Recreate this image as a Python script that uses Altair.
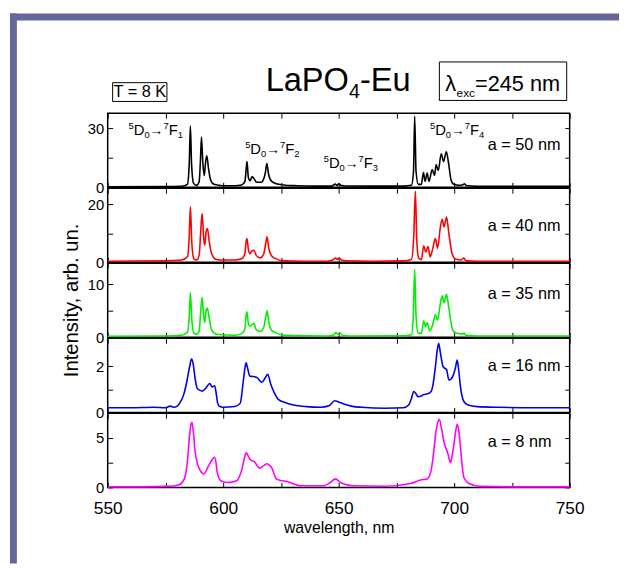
import altair as alt
import pandas as pd

FONT = "Liberation Sans"
FRAME = "#666699"

X_DOMAIN = [550, 750]
X_TICKS = [550, 575, 600, 625, 650, 675, 700, 725, 750]
X_LABELS = [550, 600, 650, 700, 750]

# ---------------- spectra (wavelength nm, intensity) ----------------
wl_50 = [550, 575, 582, 584.5, 585.3, 585.8, 586.3, 587.2, 588.5, 589.6, 590.2, 590.6, 591.2, 591.8,
         592.4, 592.9, 593.6, 594.5, 596, 600, 605, 608, 609.4, 610.0, 610.3, 610.9, 611.7, 612.5,
         613.3, 614.5, 616.5, 618.2, 618.9, 619.6, 621, 623, 626, 632, 640, 647, 648.5, 649.3, 650.0,
         651, 653, 665, 678, 681.5, 682.4, 682.9, 683.5, 684.5, 685.8, 686.7, 687.4, 688.3, 689.1,
         690.5, 691.5, 692.2, 693.1, 694.4, 695.4, 696.6, 697.6, 698.6, 699.8, 702, 703.8, 704.4,
         705.2, 710, 730, 750]
int_50 = [0.3, 0.4, 0.5, 1.5, 12, 31, 12, 2, 1.0, 3, 15, 25.5, 12, 6,
          13, 16, 10, 4, 1.5, 0.8, 0.8, 1.2, 3, 10, 13, 5, 3.4, 5.5,
          4.5, 2.6, 2.6, 7, 12, 7, 3, 1.8, 1.2, 0.8, 0.6, 0.6, 1.6, 0.9, 1.8,
          1.0, 0.7, 0.6, 0.6, 1, 8, 36, 8, 1.5, 1.5, 7.5, 3, 7.2, 3,
          9, 6, 11.5, 8.5, 17, 13, 18, 12, 4, 1.5, 1.0, 1.3, 1.8,
          0.9, 0.5, 0.5, 0.5]

wl_40 = [550, 575, 582, 584.6, 585.3, 585.8, 586.4, 587.3, 588.5, 589.6, 590.3, 590.9, 591.5, 592.0,
         592.6, 593.2, 594, 595, 597, 600, 605, 608, 609.4, 609.9, 610.3, 610.9, 611.6, 612.5, 613.3,
         614.3, 616, 617.5, 618.4, 619.0, 619.7, 621, 623, 625, 635, 645, 647.5, 648.6, 649.4, 650.2,
         651.2, 653, 665, 678, 681.5, 682.5, 683.2, 683.8, 684.6, 685.8, 686.8, 687.7, 688.7, 689.6,
         690.5, 691.9, 692.8, 694.0, 694.8, 695.6, 696.7, 697.7, 699.1, 700.5, 703, 704.2, 705, 710, 750]
int_40 = [0.4, 0.5, 0.8, 2, 9, 19.2, 7, 1.2, 0.8, 2.5, 11, 16.9, 9, 5.9,
          10.5, 11.7, 7, 3, 1.0, 0.8, 0.8, 1.2, 3, 7, 8.2, 4.5, 3.0, 4, 4.2,
          2.4, 1.5, 2.8, 6.5, 8.8, 5, 2.2, 1.2, 0.6, 0.4, 0.4, 0.8, 1.5, 1.0, 1.6,
          0.8, 0.5, 0.4, 0.5, 1, 9, 24.6, 8, 1.5, 0.9, 5.7, 3.6, 5.5, 1.9,
          4, 8.2, 4.9, 12, 14.9, 12.3, 15.7, 10, 3.0, 1.2, 0.8, 1.5, 0.6, 0.4, 0.4]

wl_35 = [550, 575, 582, 584.6, 585.3, 585.8, 586.4, 587.3, 588.5, 589.6, 590.3, 590.9, 591.5, 592.0,
         592.6, 593.1, 594, 595, 597, 605, 608, 609.4, 609.9, 610.3, 610.9, 611.6, 612.5, 613.3, 614.3,
         616, 617.5, 618.4, 619.0, 619.7, 621, 623, 626, 645, 648, 648.8, 649.6, 650.4, 651.5, 655,
         678, 681.5, 682.3, 682.9, 683.5, 684.4, 685.8, 686.8, 687.6, 688.3, 689.4, 690.6, 691.9,
         692.8, 694.0, 694.8, 695.6, 696.7, 697.7, 699.4, 701, 703.5, 704.2, 705, 710, 750]
int_35 = [0.2, 0.25, 0.4, 1, 4, 8.4, 3.5, 0.8, 0.6, 1.2, 5, 7.5, 4.2, 2.8,
          5, 5.5, 3.5, 1.4, 0.6, 0.4, 0.7, 1.6, 4, 4.8, 2.6, 2.1, 2.4, 2.6, 1.4,
          1.1, 1.8, 3.8, 5.0, 3.0, 1.3, 0.8, 0.4, 0.25, 0.5, 0.9, 0.6, 0.9, 0.4, 0.25,
          0.3, 0.5, 4, 12.8, 4, 0.8, 0.7, 3.1, 2.0, 2.8, 1.2, 2.2, 4.3,
          3.2, 6.3, 7.8, 6.5, 8.1, 5.5, 1.3, 0.8, 0.6, 0.8, 0.4, 0.25, 0.25]

wl_16 = [550, 560, 570, 575, 577, 579, 581.5, 583, 584.4, 585.5, 586.3, 587.0, 587.8, 588.7, 590,
         590.9, 592.5, 594.2, 595.2, 596.3, 597.0, 597.6, 598.5, 600, 605, 607.4, 608.6, 609.4,
         609.9, 610.6, 611.5, 613, 614.7, 616.0, 616.8, 618.2, 619.3, 620.5, 621.9, 624, 627, 630.6,
         636, 642, 646, 648.2, 650, 652.2, 656, 660, 670, 678, 680.3, 681.5, 682.5, 683.5, 684.3,
         686.0, 686.8, 688.5, 690, 691, 691.9, 692.7, 693.3, 694.0, 695.1, 696.0, 696.7, 697.7,
         698.7, 699.6, 700.6, 701.3, 702.0, 702.7, 704.2, 706, 710, 720, 735, 750]
int_16 = [0.2, 0.2, 0.22, 0.2, 0.27, 0.22, 0.45, 0.8, 1.4, 2.0, 2.3, 2.1, 1.5, 1.05, 0.95,
          0.92, 1.05, 1.25, 1.1, 1.15, 0.8, 0.4, 0.25, 0.22, 0.25, 0.4, 1.27, 1.9,
          2.14, 1.9, 1.56, 1.55, 1.5, 1.35, 1.3, 1.5, 1.65, 1.25, 0.9, 0.55, 0.42, 0.32,
          0.25, 0.22, 0.3, 0.5, 0.45, 0.36, 0.26, 0.22, 0.18, 0.2, 0.32, 0.6, 0.9, 0.8, 0.68,
          0.72, 0.77, 0.8, 0.9, 1.3, 2.0, 2.7, 2.98, 2.6, 2.0, 1.9, 1.85, 1.4,
          1.45, 1.6, 1.95, 2.26, 1.8, 1.12, 0.47, 0.32, 0.25, 0.22, 0.2, 0.2]

wl_8 = [550, 565, 575.7, 580.7, 582.5, 583.6, 584.5, 585.3, 586.0, 586.5, 587.1, 587.9, 589, 590.1,
        591.6, 593.7, 595.2, 596.2, 596.9, 597.3, 598.1, 598.8, 601.7, 604, 606, 607.2, 608.2, 609.2,
        610, 610.8, 611.8, 613.5, 615.8, 617.5, 619, 620, 621.2, 623, 625, 627.6, 630, 633.4, 643.5,
        646.4, 648.6, 650.8, 653, 656.5, 670, 681.1, 685.4, 688.3, 690, 691.1, 691.9, 692.8, 693.6,
        694.5, 695.5, 697.3, 698.4, 699.1, 699.8, 700.6, 701.3, 701.9, 702.4, 703.3, 704.2, 706.4,
        711.4, 730, 750]
int_8 = [0.05, 0.05, 0.1, 0.25, 0.6, 1.2, 2.6, 4.9, 6.3, 6.6, 5.6, 3.56, 2.3, 1.7,
         1.36, 2.2, 2.8, 3.05, 2.5, 1.7, 1.0, 0.7, 0.5, 0.55, 0.7, 1.2, 1.9, 3.0,
         3.5, 3.2, 2.8, 2.6, 1.95, 2.2, 2.4, 2.25, 1.9, 0.86, 0.7, 0.6, 0.4, 0.17, 0.17,
         0.5, 0.86, 0.5, 0.3, 0.17, 0.12, 0.4, 0.75, 0.86, 1.7, 3.5, 5.25, 6.5, 6.9,
         6.0, 4.7, 3.4, 2.5, 3.2, 4.2, 5.6, 6.4, 5.9, 4.9, 2.6, 1.0, 0.4,
         0.1, 0.05, 0.05]

series_wl = [wl_50, wl_40, wl_35, wl_16, wl_8]
series_int = [int_50, int_40, int_35, int_16, int_8]
series_color = ["#000000", "#ff0000", "#00ee00", "#0000ee", "#ff00ff"]
series_name = ["a = 50 nm", "a = 40 nm", "a = 35 nm", "a = 16 nm", "a = 8 nm"]
y_max = [37.5, 25.6, 13.9, 3.2, 7.5]
y_ticks = [[0, 15, 30], [0, 10, 20], [0, 5, 10], [0, 1, 2], [0, 2.5, 5]]
y_labels = [[0, 30], [0, 20], [0, 10], [0, 2], [0, 5]]

transitions = ["1", "2", "3", "4"]
transition_wl = [559, 609.5, 643.5, 689.5]
transition_val = [26.5, 17, 10, 26.5]

W, H = 468, 75

CW = {'0': .556, '1': .556, '2': .556, '3': .556, '4': .556, '5': .556, '6': .556, '7': .556,
      '8': .556, '9': .556, 'D': .722, 'F': .611, '→': 1.0, 'L': .556, 'a': .556, 'P': .667,
      'O': .778, '-': .333, 'E': .667, 'u': .556, 'λ': .52, 'e': .556, 'x': .5, 'c': .5,
      '=': .584, ' ': .278, 'n': .556, 'm': .833, 'T': .611, 'K': .667}


def tw(s, size):
    return sum(CW.get(c, .556) for c in s) * size


ONE = alt.Data(values=[{}])


def txt(s, x, y, size, font=FONT, align="left", baseline="alphabetic", angle=0):
    kw = dict(text=s, font=font, fontSize=size, align=align, baseline=baseline, color="black")
    if angle:
        kw["angle"] = angle
    return alt.Chart(ONE).mark_text(**kw).encode(x=alt.value(x), y=alt.value(y))


def seq(parts, x0, y0):
    out = []
    x = x0
    for s, size, dy in parts:
        out.append(txt(s, x, y0 + dy, size))
        x += tw(s, size)
    return out


def box(x1, x2, y1, y2):
    return alt.Chart(ONE).mark_rect(filled=False, stroke="black", strokeWidth=1).encode(
        x=alt.value(x1), x2=alt.value(x2), y=alt.value(y1), y2=alt.value(y2))


def bar(x1, x2, y1, y2):
    return alt.Chart(ONE).mark_rect(color=FRAME).encode(
        x=alt.value(x1), x2=alt.value(x2), y=alt.value(y1), y2=alt.value(y2))


INWARD = alt.ExprRef(expr="-5")


def panel(i):
    df = pd.DataFrame({"wl": series_wl[i], "I": series_int[i]})
    xs = alt.Scale(domain=X_DOMAIN, nice=False, zero=False)
    ys = alt.Scale(domain=[0, y_max[i]], nice=False, zero=False)
    last = i == 4
    lab_vals = str(y_labels[i])
    if last:
        x_bottom = alt.Axis(orient="bottom", values=X_TICKS, tickSize=INWARD, labelFlush=False,
                            labelExpr="indexof(%s, datum.value) >= 0 ? datum.label : ''" % str(X_LABELS),
                            labelPadding=17, labelFont=FONT, labelFontSize=17.5,
                            title="wavelength, nm", titleFont=FONT,
                            titleFontSize=16, titleFontWeight="normal", titlePadding=3)
    else:
        x_bottom = alt.Axis(orient="bottom", values=X_TICKS, tickSize=INWARD, labels=False, title=None)
    y_left = alt.Axis(orient="left", values=y_ticks[i], tickSize=INWARD, title=None, labelFlush=False,
                      labelExpr="indexof(%s, datum.value) >= 0 ? datum.label : ''" % lab_vals,
                      labelPadding=9, labelFont=FONT, labelFontSize=15)
    x_top = alt.Axis(orient="top", values=X_TICKS, tickSize=INWARD, labels=False, title=None)
    y_right = alt.Axis(orient="right", values=y_ticks[i], tickSize=INWARD, labels=False, title=None)

    line = alt.Chart(df).mark_line(color=series_color[i], strokeWidth=1.6, interpolate="monotone").encode(
        x=alt.X("wl:Q", scale=xs, axis=x_bottom),
        y=alt.Y("I:Q", scale=ys, axis=y_left))
    ghost = alt.Chart(df).mark_line(opacity=0).encode(
        x=alt.X("wl:Q", scale=xs, axis=x_top),
        y=alt.Y("I:Q", scale=ys, axis=y_right))
    layers = [line, ghost]
    label_y = [32, 38, 31, 28, 29][i]
    layers.append(txt(series_name[i], 385, label_y, 16.5, baseline="middle"))

    if i == 0:
        # transition labels
        for j, k in enumerate(transitions):
            px = (transition_wl[j] - X_DOMAIN[0]) / (X_DOMAIN[1] - X_DOMAIN[0]) * W
            py = H - transition_val[j] / y_max[0] * H
            parts = [("5", 9.5, -6), ("D", 15, 0), ("0", 9.5, 3), ("→", 14, 0),
                     ("7", 9.5, -6), ("F", 15, 0), (k, 9.5, 3)]
            layers += seq(parts, px, py)
        # title
        layers += seq([("LaPO", 33, 0), ("4", 20, 8), ("-Eu", 33, 0)], 160, -23)
        # T = 8 K
        layers.append(box(5, 60, -31, -12))
        layers.append(txt("T = 8 K", 32.5, -21, 16.5, align="center", baseline="middle"))
        # lambda exc
        layers.append(box(336, 465, -52, -13))
        layers += seq([("λ", 22, 0), ("exc", 12, 6), ("=245 nm", 22, 0)], 342, -23)
        # slide frame
        layers.append(bar(-99, -92, -101, 456))
        layers.append(bar(-99, 518, -101, -94))
    if i == 2:
        layers.append(txt("Intensity, arb. un.", -36, 37.5, 20.5, align="center",
                          baseline="middle", angle=270))

    return alt.layer(*layers).resolve_axis(x="independent", y="independent").properties(width=W, height=H)


chart = alt.vconcat(*[panel(i) for i in range(5)], spacing=1, bounds="flush").properties(
    padding={"left": 1, "top": 1, "right": 0, "bottom": 0}, background="white"
).configure_view(stroke="black", strokeWidth=1.5).configure_axis(
    domain=False, grid=False, tickColor="black", tickWidth=1, labelColor="black"
)

chart.save("out.html", embed_options={"renderer": "svg", "actions": False})
